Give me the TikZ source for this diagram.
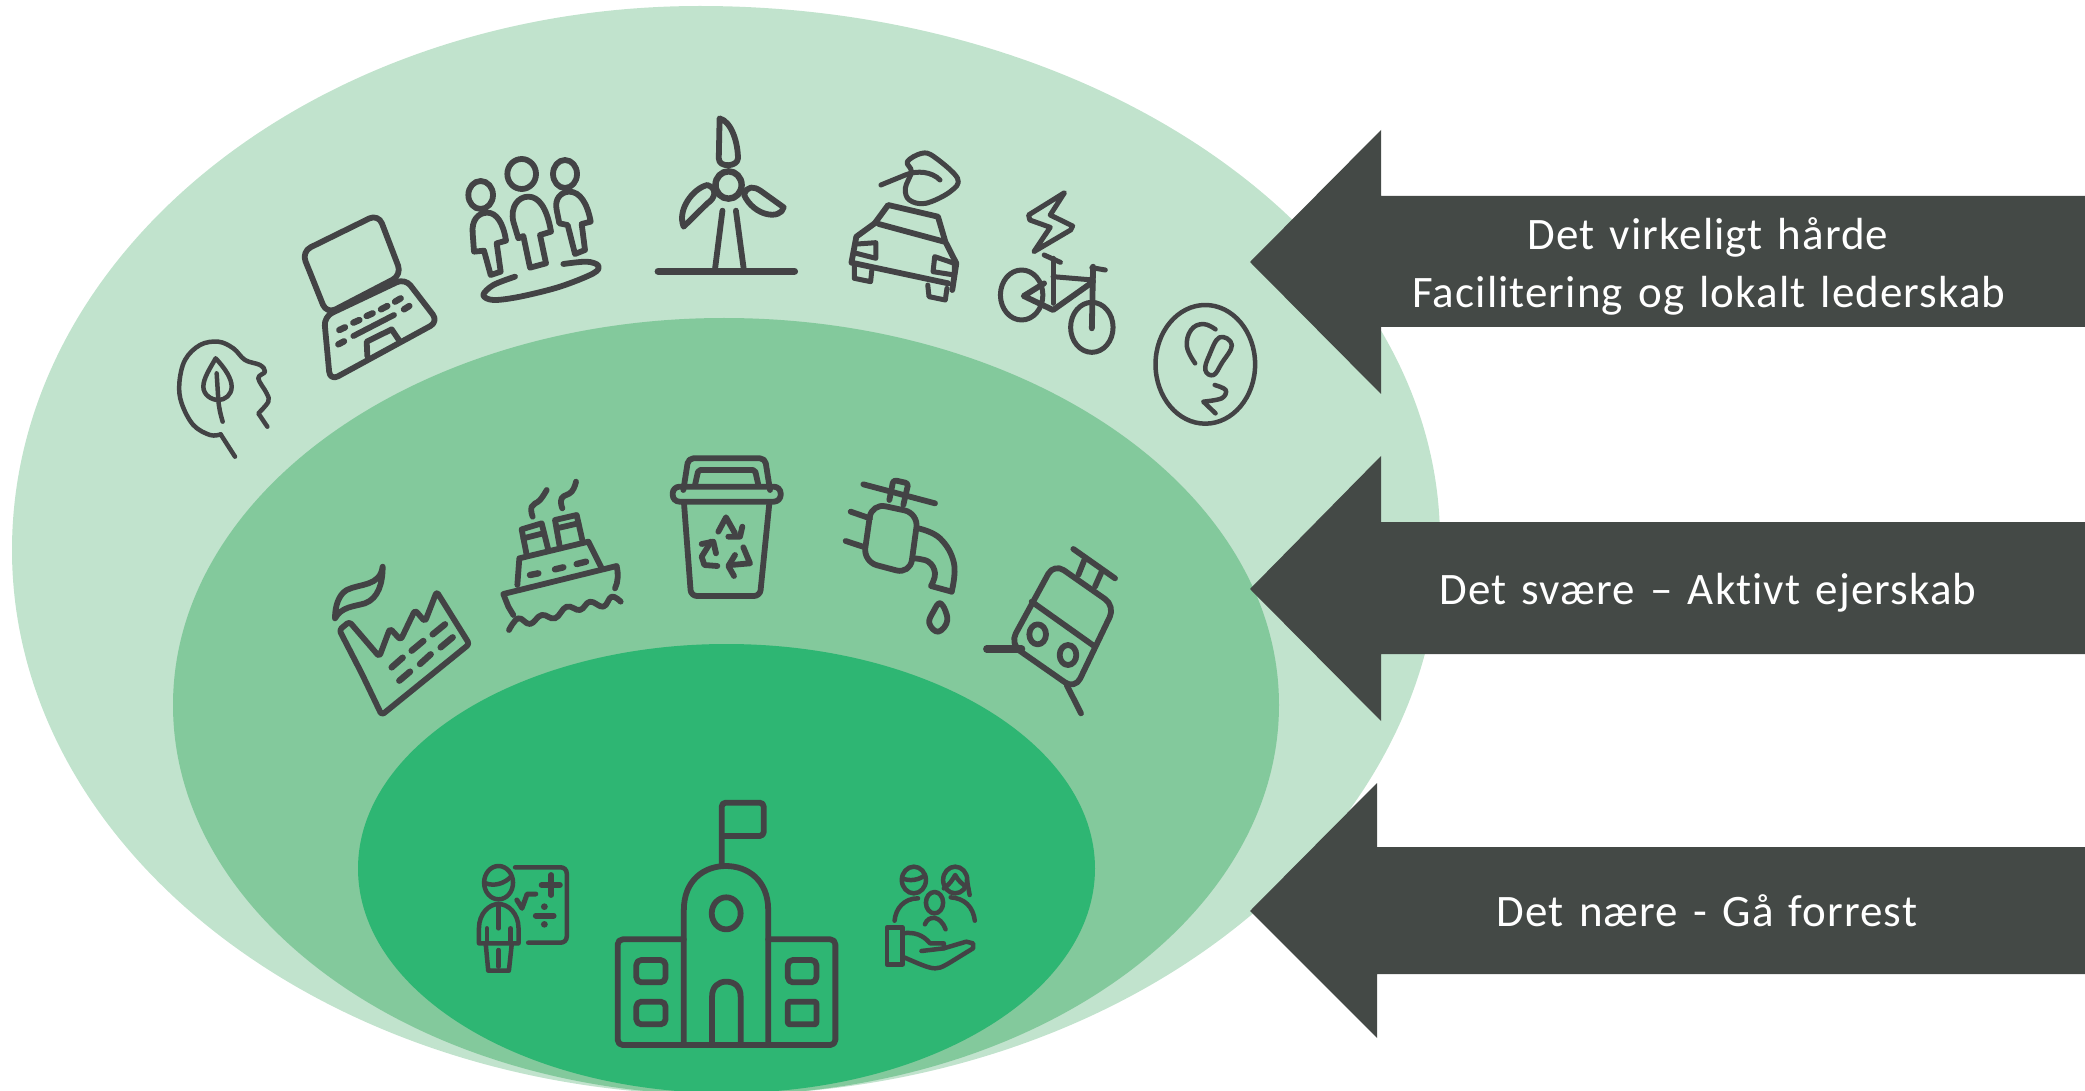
\documentclass[tikz,border=0pt]{standalone}
\usepackage{fontspec}
\setmainfont{Carlito}
\newfontfamily\labelfont[LetterSpace=2.4,WordSpace=1.35,Ligatures=NoCommon]{Carlito}
\definecolor{blobA}{HTML}{C1E3CD}
\definecolor{blobB}{HTML}{83C99C}
\definecolor{blobC}{HTML}{2EB673}
\definecolor{arrowdark}{HTML}{444946}
\definecolor{icondark}{HTML}{434345}
\tikzset{
  ico/.style={draw=icondark,line width=2.9pt,line cap=round,line join=round},
  icothin/.style={ico,line width=2.25pt},
  icomid/.style={ico,line width=2.5pt},
  bigarrow/.style={fill=arrowdark,draw=none},
  arrowtext/.style={text=white,anchor=base,inner sep=0pt,font=\labelfont\fontsize{22.5}{27}\selectfont},
  zoomone/.style={shift={#1},x=0.16667pt,y=-0.16667pt},
  zoomtwo/.style={shift={#1},x=0.20408pt,y=-0.16667pt},
  zoomfive/.style={shift={#1},x=0.17218pt,y=-0.16667pt}
}
\begin{document}
\begin{tikzpicture}[x=0.5pt,y=-0.5pt]
\useasboundingbox (0,0) rectangle (2085,1091);
\clip (0,0) rectangle (2085,1091);
% outer shape
\fill[blobA] (12,550) .. controls (12,250) and (320,6) .. (700,6)
  .. controls (1109,6) and (1440,245) .. (1440,540)
  .. controls (1440,847) and (1118,1095) .. (720,1095)
  .. controls (329,1095) and (12,851) .. (12,550) -- cycle;
% middle shape
\fill[blobB] (173,705) .. controls (173,491) and (420,318) .. (724,318)
  .. controls (1031,318) and (1279,491) .. (1279,705)
  .. controls (1279,920) and (1031,1095) .. (724,1095)
  .. controls (420,1095) and (173,920) .. (173,705) -- cycle;
% inner shape
\fill[blobC] (726.5,868.5) ellipse [x radius=368.5,y radius=224.5];
% arrows
\fill[bigarrow] (1250,262)--(1381,130)--(1381,196)--(2085,196)--(2085,327)--(1381,327)--(1381,394)--cycle;
\fill[bigarrow] (1250,589)--(1381,456)--(1381,522)--(2085,522)--(2085,654)--(1381,654)--(1381,721)--cycle;
\fill[bigarrow] (1250,911)--(1377,783)--(1377,847)--(2085,847)--(2085,974)--(1377,974)--(1377,1038)--cycle;
\node[arrowtext] (t1) at (1708,250) {Det virkeligt hårde};
\node[arrowtext] (t2) at (1709,308) {Facilitering og lokalt lederskab};
\node[arrowtext] (t3) at (1708,604) {Det svære – Aktivt ejerskab};
\node[arrowtext] (t4) at (1707,926) {Det nære - Gå forrest};
% icons from crop (150,100)
\begin{scope}[zoomone={(150,100)}]
% head
\draw[icothin] plot[smooth,tension=.6] coordinates {(212,1003)(180,1005)(130,975)(95,910)(88,850)(105,780)(150,735)(205,725)(250,745)(285,780)(330,795)(345,815)(325,835)(350,880)(355,905)(325,940)} -- (352,980);
\draw[icothin] (212,1003)--(255,1070);
\draw[icothin] (197,775) .. controls (225,805) and (245,835) .. (245,860) .. controls (245,885) and (225,900) .. (205,900) .. controls (185,900) and (160,885) .. (160,860) .. controls (160,835) and (180,805) .. (197,775) -- cycle;
\draw[icothin] (200,820)--(205,900) .. controls (207,925) and (212,945) .. (218,965);
% laptop
\draw[ico,rounded corners=5pt] (455,455)--(685,342)--(755,525)--(530,642)--cycle;
\draw[ico,rounded corners=4.5pt] (522,650)--(765,535)--(865,665)--(540,842)--cycle;
\draw[ico,line width=3.2pt] (568,690)--(585,682) (610,668)--(628,660) (650,648)--(668,640) (693,628)--(712,618) (735,605)--(752,595) (565,733)--(582,724) (762,628)--(778,618);
\draw[ico] (610,708)--(732,645);
\draw[ico] (652,768)--(650,725)--(725,688)--(750,725);
% people
\draw[ico] (992,285) ellipse [x radius=37,y radius=42];
\draw[ico] (1115,222) ellipse [x radius=43,y radius=45];
\draw[ico] (1245,222) ellipse [x radius=36,y radius=42];
\draw[ico] (972,455)--(968,400) .. controls (964,360) and (985,338) .. (1012,338) .. controls (1040,338) and (1060,370) .. (1068,422) --(1040,430)--(1052,515)--(1022,525)--(1002,452)--cycle;
\draw[ico] (1105,415)--(1090,365) .. controls (1080,320) and (1105,290) .. (1135,290) .. controls (1165,290) and (1190,320) .. (1203,395) --(1170,405)--(1188,490)--(1140,503)--(1120,408)--cycle;
\draw[ico] (1228,370)--(1220,330) .. controls (1212,295) and (1235,275) .. (1258,275) .. controls (1290,275) and (1312,310) .. (1322,365) --(1295,372)--(1305,450)--(1275,462)--(1253,375)--cycle;
\draw[ico] plot[smooth,tension=.55] coordinates {(1095,530)(1030,555)(1000,585)(1030,600)(1110,590)(1230,560)(1330,520)(1345,497)(1310,485)(1240,492)};
\end{scope}
% icons from crop (640,100)
\begin{scope}[zoomtwo={(640,100)}]
% turbine
\draw[ico,line width=3.2pt] (217,255) ellipse [x radius=32,y radius=41];
\draw[ico] (195,55) .. controls (225,65) and (240,130) .. (240,175) .. controls (240,200) and (193,205) .. (193,175) -- cycle;
\draw[ico] (107,380) .. controls (90,330) and (130,265) .. (165,255) .. controls (190,265) and (185,295) .. (165,310) -- cycle;
\draw[ico] (255,285) .. controls (262,255) and (280,260) .. (295,272) -- (352,322) .. controls (345,360) and (280,350) .. (255,285) -- cycle;
\draw[ico] (202,332)--(183,515);
\draw[ico] (235,332)--(255,515);
\draw[ico,line width=3.8pt] (45,514)--(378,514);
% car
\draw[ico] (575,370)--(608,315)--(730,350)--(748,425)--(775,490)--(765,570);
\draw[ico] (585,372)--(745,425);
\draw[ico] (575,370)--(530,410)--(518,488)--(755,550);
\draw[icomid] (532,432)--(578,428)--(578,475)--(530,460);
\draw[icomid] (722,470)--(770,490)--(770,525)--(718,515)--cycle;
\draw[icomid] (525,500)--(525,535)--(565,545)--(568,510);
\draw[icomid] (705,555)--(708,590)--(748,600)--(752,565);
\draw[icomid] plot[smooth cycle,tension=.6] coordinates {(690,160)(720,170)(778,235)(760,275)(700,310)(660,300)(650,265)(665,215)(655,185)};
\draw[icomid] (590,255)--(650,225) .. controls (680,210) and (715,215) .. (735,240);
% bike
\draw[icomid] (1040,278)--(952,345)--(955,360)--(1005,382)--(965,455)--(1055,390)--(1060,378)--(1005,345)--cycle;
\draw[icomid] (935,585) ellipse [x radius=52,y radius=75];
\draw[icomid] (1107,682) ellipse [x radius=52,y radius=75];
\draw[icomid] (990,465)--(1030,487);
\draw[icomid] (1012,475)--(1012,610);
\draw[icomid] (1012,530)--(1110,540);
\draw[ico] (1110,545)--(1012,630)--(940,588)--(990,550);
\draw[ico] (1110,500)--(1107,685);
\draw[icomid] (1107,503)--(1140,510);
% CO2
\draw[icothin] (1385,793) ellipse [x radius=122,y radius=178];
\draw[icothin] plot[smooth,tension=.7] coordinates {(1410,688)(1380,672)(1350,690)(1340,740)(1360,790)};
\draw[icothin] plot[smooth cycle,tension=.7] coordinates {(1420,712)(1450,735)(1425,790)(1405,825)(1385,810)(1395,765)};
\draw[icothin] plot[smooth,tension=.6] coordinates {(1408,855)(1435,870)(1425,895)(1380,905)} -- (1410,940);
\end{scope}
% icons from crop (310,440)
\begin{scope}[zoomone={(310,440)}]
% factory
\draw[ico] (218,380) .. controls (210,440) and (150,430) .. (110,450) .. controls (85,465) and (75,500) .. (75,535) .. controls (95,500) and (130,500) .. (165,490) .. controls (205,475) and (218,430) .. (218,380) -- cycle;
\draw[ico,rounded corners=1.5pt] (88,570)--(118,545)--(208,650)--(240,565)--(272,600)--(315,510)--(345,545)--(380,455)--(478,612)--(215,825)--(155,700)--cycle;
\draw[ico,line width=3.2pt] (245,682)--(278,653) (305,632)--(340,603) (368,583)--(405,553) (268,722)--(300,695) (330,672)--(362,643) (392,622)--(428,592);
% ship
\draw[ico] (650,345)--(635,268)--(695,250)--(715,330);
\draw[ico] (640,295)--(700,280);
\draw[ico] (750,325)--(735,240)--(800,225)--(818,305);
\draw[ico] (740,265)--(805,250);
\draw[ico] (622,435)--(628,355)--(835,305)--(875,385);
\draw[ico] (610,525)--(595,500)--(580,462)--(920,378) .. controls (925,400) and (925,425) .. (915,445);
\draw[ico,line width=3.2pt] (660,405)--(685,400) (735,388)--(760,382) (800,372)--(828,365);
\draw[ico] plot[smooth,tension=.7] coordinates {(597,570)(625,535)(660,552)(695,525)(735,535)(770,500)(810,510)(840,485)(880,500)(905,470)(932,485)};
\draw[ico] plot[smooth,tension=.8] coordinates {(668,230)(665,200)(690,180)(710,150)};
\draw[ico] plot[smooth,tension=.8] coordinates {(757,205)(755,175)(785,155)(798,125)};
% bin
\draw[ico,rounded corners=2.5pt] (1120,150)--(1135,55)--(1365,55)--(1380,150);
\draw[ico,rounded corners=1pt] (1155,135)--(1165,90)--(1335,90)--(1345,135);
\draw[ico,rounded corners=3.4pt] (1088,140) rectangle (1412,185);
\draw[ico,rounded corners=3pt] (1122,190)--(1143,468)--(1350,468)--(1378,190);
\draw[ico] (1225,275)--(1248,232)--(1275,280);
\draw[ico] (1255,290)--(1290,290)--(1297,260);
\draw[ico] (1300,322)--(1320,370)--(1262,375);
\draw[ico] (1275,345)--(1255,378)--(1272,408);
\draw[ico] (1222,378)--(1183,375)--(1175,350)--(1203,305);
\draw[ico] (1175,312)--(1210,305)--(1218,340);
\end{scope}
% icons from crop (800,450)
\begin{scope}[zoomone={(800,450)}]
% tap
\draw[ico] (190,103)--(405,160);
\draw[ico,rounded corners=1.5pt] (268,150)--(280,90)--(325,100)--(310,165);
\draw[ico,rounded corners=7pt] (215,160)--(355,190)--(330,372)--(190,335)--cycle;
\draw[ico] (152,185)--(210,205);
\draw[ico] (137,273)--(195,292);
\draw[ico] plot[smooth,tension=.7] coordinates {(355,235)(420,265)(462,340)(455,425)};
\draw[ico] plot[smooth,tension=.7] coordinates {(340,325)(385,335)(405,370)(393,408)} -- (455,425);
\draw[ico] plot[smooth cycle,tension=.7] coordinates {(422,460)(442,510)(415,545)(388,520)(400,485)};
% train
\draw[ico] (820,297)--(945,385);
\draw[ico] (853,330)--(835,375);
\draw[ico] (905,365)--(885,410);
\draw[ico,rounded corners=6pt] (762,340)--(945,468)--(825,718)--(630,582)--cycle;
\draw[ico] (695,455)--(885,590);
\draw[ico] (713,553) ellipse [x radius=25,y radius=30];
\draw[ico] (804,615) ellipse [x radius=25,y radius=30];
\draw[ico,line width=3.6pt] (560,597)--(665,597);
\draw[ico] (800,705)--(843,790);
\end{scope}
% icons from crop (460,780)
\begin{scope}[zoomfive={(460,780)}]
% school
\draw[ico] (650,790)--(650,390) .. controls (650,300) and (710,258) .. (772,258) .. controls (835,258) and (895,300) .. (895,390) -- (895,790);
\draw[ico,rounded corners=2.5pt] (650,478)--(458,478)--(458,795)--(1090,795)--(1090,478)--(895,478);
\draw[ico,rounded corners=2pt] (760,258)--(760,68)--(882,68)--(882,168)--(760,168);
\draw[ico] (773,400) ellipse [x radius=42,y radius=48];
\draw[ico] (732,790)--(732,650) .. controls (732,620) and (750,605) .. (773,605) .. controls (798,605) and (815,620) .. (815,650) -- (815,790);
\draw[ico,rounded corners=2.5pt] (512,540) rectangle (597,607);
\draw[ico,rounded corners=2.5pt] (512,665) rectangle (597,733);
\draw[ico,rounded corners=2.5pt] (952,540) rectangle (1035,607);
\draw[ico,rounded corners=1pt] (952,665) rectangle (1035,733);
% teacher
\draw[icothin] (112,308) ellipse [x radius=42,y radius=50];
\draw[icothin] (75,310) .. controls (100,320) and (130,310) .. (148,290);
\draw[icothin,rounded corners=3pt] (160,262)--(310,262)--(310,488)--(198,488);
\draw[ico] (237,315)--(290,315) (265,285)--(265,345) (220,407)--(272,407);
\fill[icondark] (245,380) circle [radius=10] (245,433) circle [radius=10];
\draw[icomid] (165,360)--(180,385)--(195,342)--(220,342);
\draw[icothin] (55,490)--(55,445) .. controls (55,400) and (85,372) .. (112,372) .. controls (140,372) and (170,400) .. (170,445) -- (170,490)--cycle;
\draw[icothin] (112,372)--(112,445) (78,445)--(78,490) (147,445)--(147,490);
\draw[icothin] (75,495)--(82,572)--(142,572)--(150,495);
\draw[icothin] (112,510)--(112,560);
% family
\draw[icothin] (1318,300) ellipse [x radius=35,y radius=40];
\draw[icothin] (1285,295) .. controls (1305,305) and (1335,300) .. (1350,285);
\draw[icothin] (1438,300) ellipse [x radius=35,y radius=40];
\draw[icothin] (1405,325) .. controls (1420,315) and (1430,300) .. (1438,285) .. controls (1445,300) and (1460,315) .. (1472,320);
\draw[icothin] (1472,300)--(1480,345);
\draw[icothin] (1378,368) ellipse [x radius=25,y radius=32];
\draw[icothin] (1262,422) .. controls (1265,385) and (1290,355) .. (1330,355);
\draw[icothin] (1425,352) .. controls (1465,355) and (1490,380) .. (1495,422);
\draw[icothin] (1350,433) .. controls (1360,405) and (1395,405) .. (1410,448);
\draw[icothin] (1240,443)--(1285,443)--(1285,553)--(1240,553)--cycle;
\draw[icothin] (1285,460) .. controls (1320,455) and (1345,465) .. (1365,490) -- (1405,490) -- (1405,505);
\draw[icothin] (1285,530) .. controls (1330,550) and (1360,565) .. (1380,565) .. controls (1400,565) and (1410,555) .. (1490,505)--(1490,490)--(1470,485)--(1405,505)--(1340,513);
\end{scope}
\end{tikzpicture}
\end{document}
